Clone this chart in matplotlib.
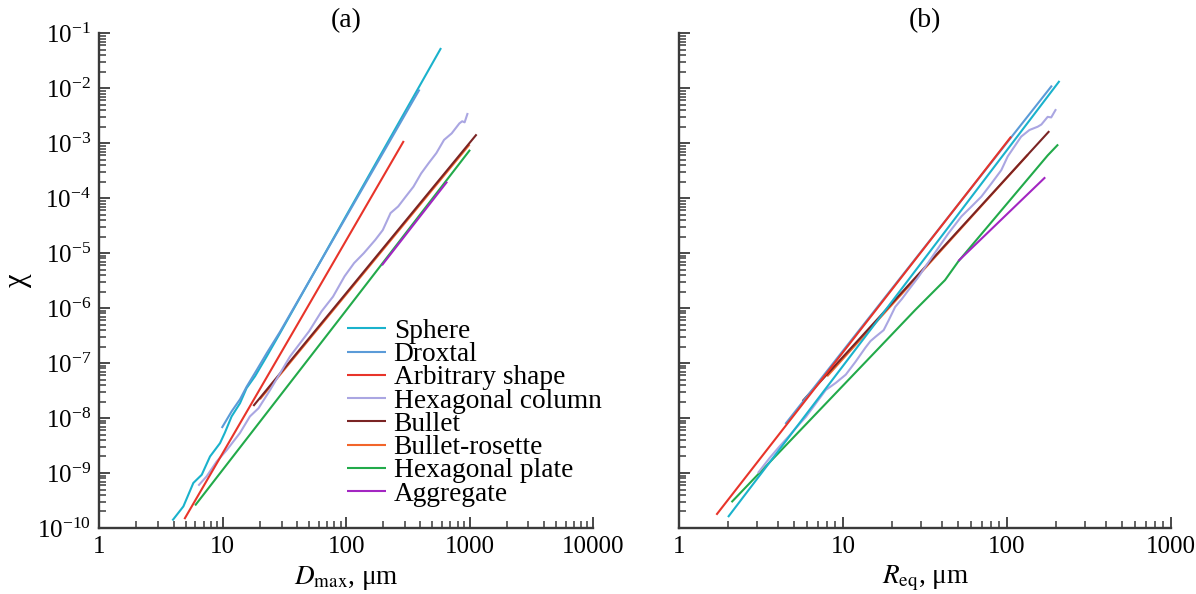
import matplotlib
matplotlib.use("Agg")
import matplotlib.pyplot as plt
import numpy as np

plt.rcParams['font.family'] = ['Liberation Serif', 'DejaVu Serif']
plt.rcParams['mathtext.fontset'] = 'stix'

labels = ["Sphere", "Droxtal", "Arbitrary shape", "Hexagonal column",
          "Bullet", "Bullet-rosette", "Hexagonal plate", "Aggregate"]
colors = ["#1ab2cc", "#5b9bd8", "#e8342a", "#aaa6e2",
          "#7a2424", "#f2652a", "#22aa4a", "#a326c2"]

# ---------------- panel (a): chi vs D_max (um) ----------------
sphere_a_x = [3.91, 4.80, 5.78, 6.76, 7.89, 9.51, 10.4, 11.8, 13.8, 15.6, 18.3, 22.7, 29.1, 100, 587]
sphere_a_y = [1.37e-10, 2.47e-10, 6.6e-10, 9.3e-10, 2.0e-9, 3.5e-9, 5.4e-9, 1.07e-8, 1.86e-8,
              3.5e-8, 5.8e-8, 1.32e-7, 3.5e-7, 4.8e-5, 5.4e-2]
droxtal_a_x = [9.82, 11.8, 13.8, 15.6, 18.8, 22.7, 29.1, 393]
droxtal_a_y = [6.6e-9, 1.32e-8, 2.19e-8, 3.7e-8, 7.4e-8, 1.51e-7, 3.7e-7, 9.5e-3]
arbitrary_a_x = [4.89, 40, 293]
arbitrary_a_y = [1.45e-10, 4.9e-7, 1.10e-3]
column_a_x = [6.34, 7.41, 8.93, 10.8, 13.8, 16.6, 19.5, 24.2, 35.1, 50.1, 63.1, 78.3, 97.1, 116,
              139, 172, 198, 229, 264, 304, 351, 405, 467, 538, 621, 716, 826, 871, 912, 966]
column_a_y = [5.89e-10, 8.71e-10, 1.62e-9, 2.63e-9, 5.37e-9, 1.07e-8, 1.51e-8, 3.24e-8, 1.32e-7,
              3.80e-7, 8.71e-7, 1.62e-6, 3.80e-6, 6.61e-6, 1.00e-5, 1.74e-5, 2.63e-5, 5.37e-5,
              7.08e-5, 1.07e-4, 1.62e-4, 2.82e-4, 4.37e-4, 6.61e-4, 1.15e-3, 1.51e-3, 2.29e-3,
              2.51e-3, 2.40e-3, 3.55e-3]
bullet_a_x = [17.7, 100, 1140]
bullet_a_y = [1.66e-8, 1.87e-6, 1.45e-3]
rosette_a_x = [20, 1000]
rosette_a_y = [2.2e-8, 0.95e-3]
plate_a_x = [5.97, 100, 1009]
plate_a_y = [2.57e-10, 9.1e-7, 7.59e-4]
aggregate_a_x = [195, 658]
aggregate_a_y = [6.03e-6, 2.0e-4]

# ---------------- panel (b): chi vs R_eq (um) ----------------
sphere_b_x = [1.99, 20, 209]
sphere_b_y = [1.58e-10, 1.35e-6, 1.36e-2]
droxtal_b_x = [4.45, 20, 188]
droxtal_b_y = [7.8e-9, 2.32e-6, 1.12e-2]
arbitrary_b_x = [1.69, 10, 106]
arbitrary_b_y = [1.74e-10, 1.58e-7, 1.32e-3]
column_b_x = [3.03, 3.56, 4.09, 4.71, 5.16, 5.94, 6.84, 7.85, 9.04, 10.4, 11.9, 13.7, 14.7, 15.8,
              17.7, 19.0, 20.8, 22.9, 25.1, 28.9, 32.4, 43.9, 52.8, 60.8, 69.8, 80.4, 92.3, 101,
              111, 122, 137, 154, 162, 177, 186, 199]
column_b_y = [1.0e-9, 1.86e-9, 3.02e-9, 4.79e-9, 6.61e-9, 1.05e-8, 1.86e-8, 3.24e-8, 4.37e-8,
              6.17e-8, 1.05e-7, 1.91e-7, 2.51e-7, 3.02e-7, 3.98e-7, 6.03e-7, 1.05e-6, 1.48e-6,
              2.14e-6, 3.72e-6, 6.17e-6, 2.29e-5, 4.68e-5, 7.08e-5, 1.07e-4, 1.86e-4, 3.24e-4,
              5.75e-4, 8.71e-4, 1.32e-3, 1.74e-3, 2.00e-3, 2.19e-3, 3.02e-3, 2.95e-3, 4.17e-3]
bullet_b_x = [5.67, 20, 181]
bullet_b_y = [2.04e-8, 1.25e-6, 1.66e-3]
rosette_b_x = [8.0, 134]
rosette_b_y = [5.75e-8, 6.2e-4]
plate_b_x = [2.09, 16.5, 27.6, 41.9, 50.5, 177, 205]
plate_b_y = [2.95e-10, 1.86e-7, 9.3e-7, 3.24e-6, 7.08e-6, 6.0e-4, 9.5e-4]
aggregate_b_x = [50.5, 171]
aggregate_b_y = [7.2e-6, 2.4e-4]

series_a = [(sphere_a_x, sphere_a_y), (droxtal_a_x, droxtal_a_y), (arbitrary_a_x, arbitrary_a_y),
            (column_a_x, column_a_y), (bullet_a_x, bullet_a_y), (rosette_a_x, rosette_a_y),
            (plate_a_x, plate_a_y), (aggregate_a_x, aggregate_a_y)]
series_b = [(sphere_b_x, sphere_b_y), (droxtal_b_x, droxtal_b_y), (arbitrary_b_x, arbitrary_b_y),
            (column_b_x, column_b_y), (bullet_b_x, bullet_b_y), (rosette_b_x, rosette_b_y),
            (plate_b_x, plate_b_y), (aggregate_b_x, aggregate_b_y)]
# drawing order (index list): rosette under bullet
order_a = [5, 6, 4, 3, 2, 0, 1, 7]
order_b = [6, 7, 5, 4, 3, 0, 1, 2]

fig = plt.figure(figsize=(11.96, 5.94), dpi=100)
W, H = 1196, 594
ax_a = fig.add_axes([99.3 / W, 1 - 528 / H, (593 - 99.3) / W, (528 - 33.3) / H])
ax_b = fig.add_axes([679 / W, 1 - 528 / H, (1171 - 679) / W, (528 - 33.3) / H])

spine_c = "#3a3a3a"
for ax in (ax_a, ax_b):
    ax.set_yscale('log')
    ax.set_xscale('log')
    ax.set_ylim(1e-10, 1e-1)
    for s in ('top', 'right'):
        ax.spines[s].set_visible(False)
    for s in ('left', 'bottom'):
        ax.spines[s].set_linewidth(1.7)
        ax.spines[s].set_color(spine_c)
    ax.tick_params(which='major', direction='in', length=8, width=1.3, color=spine_c,
                   labelsize=18, pad=6)
    ax.tick_params(which='minor', direction='in', length=5, width=1.1, color=spine_c)
    ax.yaxis.set_major_locator(matplotlib.ticker.LogLocator(base=10, numticks=20))
    ax.yaxis.set_minor_locator(matplotlib.ticker.LogLocator(base=10, subs=np.arange(2, 10), numticks=20))
    ax.yaxis.set_minor_formatter(matplotlib.ticker.NullFormatter())
    ax.xaxis.set_minor_formatter(matplotlib.ticker.NullFormatter())

ax_a.set_xlim(1, 10000)
ax_b.set_xlim(1, 1000)
ax_a.xaxis.set_major_formatter(matplotlib.ticker.FuncFormatter(lambda v, p: f"{v:g}"))
ax_b.xaxis.set_major_formatter(matplotlib.ticker.FuncFormatter(lambda v, p: f"{v:g}"))
ax_b.tick_params(axis='y', labelleft=False)

handles = [None] * 8
for i in order_a:
    x, y = series_a[i]
    ln, = ax_a.plot(x, y, color=colors[i], lw=1.5, label=labels[i], solid_capstyle='butt')
    handles[i] = ln
for i in order_b:
    x, y = series_b[i]
    ax_b.plot(x, y, color=colors[i], lw=1.5, solid_capstyle='butt')

ax_a.legend(handles, labels, loc='upper left', bbox_to_anchor=(0.502, 0.423),
            frameon=False, fontsize=19.7, handlelength=1.42, handletextpad=0.28,
            labelspacing=-0.07, borderpad=0, borderaxespad=0)

ax_a.set_title("(a)", fontsize=20, pad=0.8)
ax_b.set_title("(b)", fontsize=20, pad=0.8)
ax_a.set_xlabel(r"$D_{\mathrm{max}}$, μm", fontsize=19.5, labelpad=4)
ax_b.set_xlabel(r"$R_{\mathrm{eq}}$, μm", fontsize=19.5, labelpad=4)
ax_a.set_ylabel("χ", fontsize=22, labelpad=4)

fig.savefig("out.png", dpi=100)
